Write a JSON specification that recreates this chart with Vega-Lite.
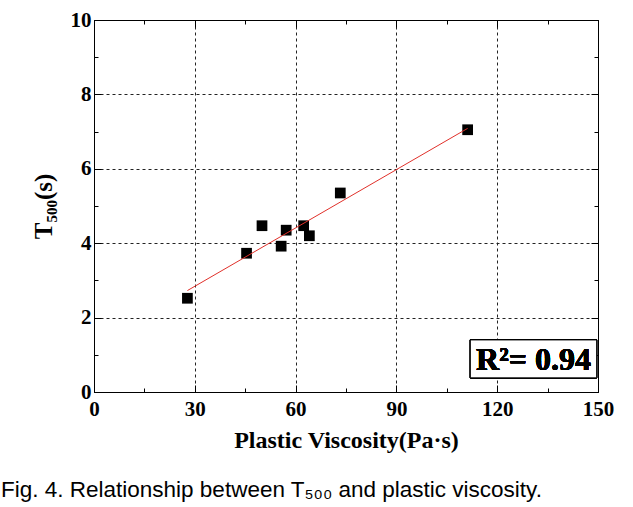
{
  "$schema": "https://vega.github.io/schema/vega-lite/v6.json",
  "autosize": "none",
  "width": 504,
  "height": 372,
  "padding": {"left": 94, "top": 20, "right": 35, "bottom": 115},
  "background": "white",
  "config": {"view": {"stroke": "black", "strokeWidth": 1}},
  "title": {
    "text": "Fig. 4. Relationship between T₅₀₀ and plastic viscosity.",
    "orient": "bottom",
    "anchor": "start",
    "frame": "bounds",
    "font": "Liberation Sans",
    "fontSize": 22.5,
    "fontWeight": "normal",
    "color": "black",
    "offset": 27,
    "dx": -30
  },
  "data": {
    "values": [
      {"pv": 27.8, "t500": 2.52},
      {"pv": 45.4, "t500": 3.73},
      {"pv": 50.0, "t500": 4.47},
      {"pv": 55.7, "t500": 3.92},
      {"pv": 57.2, "t500": 4.35},
      {"pv": 62.4, "t500": 4.47},
      {"pv": 64.1, "t500": 4.2},
      {"pv": 73.3, "t500": 5.35},
      {"pv": 111.2, "t500": 7.05}
    ]
  },
  "resolve": {"axis": {"x": "independent", "y": "independent"}},
  "layer": [
    {
      "mark": {"type": "square", "size": 115, "filled": true, "color": "black", "opacity": 1},
      "encoding": {
        "x": {
          "field": "pv", "type": "quantitative",
          "scale": {"domain": [0, 150], "nice": false, "zero": false},
          "axis": {
            "orient": "bottom",
            "title": "Plastic Viscosity(Pa·s)",
            "titleFont": "Liberation Serif", "titleFontSize": 24, "titleFontWeight": "bold", "titleColor": "black",
            "titlePadding": 9,
            "values": [0, 15, 30, 45, 60, 75, 90, 105, 120, 135, 150],
            "labelExpr": "datum.value % 30 === 0 ? datum.label : ''",
            "labelFont": "Liberation Serif", "labelFontSize": 21, "labelFontWeight": "bold", "labelColor": "black",
            "labelPadding": 13,
            "labelFlush": false,
            "tickSize": {"condition": {"test": "datum.value % 30 === 0", "value": -7}, "value": -4},
            "tickColor": "black",
            "domainColor": "black",
            "grid": true,
            "gridColor": "#222",
            "gridDash": [3, 3],
            "gridOpacity": {"condition": {"test": "datum.value % 30 === 0", "value": 1}, "value": 0}
          }
        },
        "y": {
          "field": "t500", "type": "quantitative",
          "scale": {"domain": [0, 10], "nice": false, "zero": false},
          "axis": {
            "orient": "left",
            "title": "T₅₀₀(s)",
            "titleFont": "Liberation Serif", "titleFontSize": 25, "titleFontWeight": "bold", "titleColor": "black",
            "titlePadding": 14,
            "values": [0, 1, 2, 3, 4, 5, 6, 7, 8, 9, 10],
            "labelExpr": "datum.value % 2 === 0 ? datum.label : ''",
            "labelFont": "Liberation Serif", "labelFontSize": 21, "labelFontWeight": "bold", "labelColor": "black",
            "labelPadding": 10,
            "labelFlush": false,
            "tickSize": {"condition": {"test": "datum.value % 2 === 0", "value": -7}, "value": -4},
            "tickColor": "black",
            "domainColor": "black",
            "grid": true,
            "gridColor": "#222",
            "gridDash": [3, 3],
            "gridOpacity": {"condition": {"test": "datum.value % 2 === 0", "value": 1}, "value": 0}
          }
        }
      }
    },
    {
      "transform": [{"regression": "t500", "on": "pv"}],
      "mark": {"type": "line", "color": "#e0302a", "strokeWidth": 1},
      "encoding": {
        "x": {"field": "pv", "type": "quantitative", "axis": null},
        "y": {"field": "t500", "type": "quantitative", "axis": null}
      }
    },
    {
      "mark": {"type": "point", "opacity": 0},
      "encoding": {
        "x": {
          "field": "pv", "type": "quantitative",
          "axis": {
            "orient": "top", "title": null, "labels": false, "grid": false,
            "values": [0, 15, 30, 45, 60, 75, 90, 105, 120, 135, 150],
            "tickSize": {"condition": {"test": "datum.value % 30 === 0", "value": -7}, "value": -4},
            "tickColor": "black", "domainColor": "black"
          }
        },
        "y": {
          "field": "t500", "type": "quantitative",
          "axis": {
            "orient": "right", "title": null, "labels": false, "grid": false,
            "values": [0, 1, 2, 3, 4, 5, 6, 7, 8, 9, 10],
            "tickSize": {"condition": {"test": "datum.value % 2 === 0", "value": -7}, "value": -4},
            "tickColor": "black", "domainColor": "black"
          }
        }
      }
    },
    {
      "mark": {"type": "rect", "fill": "white", "stroke": "black", "strokeWidth": 1},
      "encoding": {
        "x": {"datum": 112, "type": "quantitative", "axis": null},
        "x2": {"datum": 149.6},
        "y": {"datum": 0.38, "type": "quantitative", "axis": null},
        "y2": {"datum": 1.4}
      }
    },
    {
      "mark": {"type": "text", "font": "Liberation Serif", "fontSize": 32, "fontWeight": "bold", "color": "black", "align": "center", "baseline": "middle"},
      "encoding": {
        "x": {"datum": 130.8, "type": "quantitative", "axis": null},
        "y": {"datum": 0.86, "type": "quantitative", "axis": null},
        "text": {"value": "R²= 0.94"}
      }
    }
  ]
}
